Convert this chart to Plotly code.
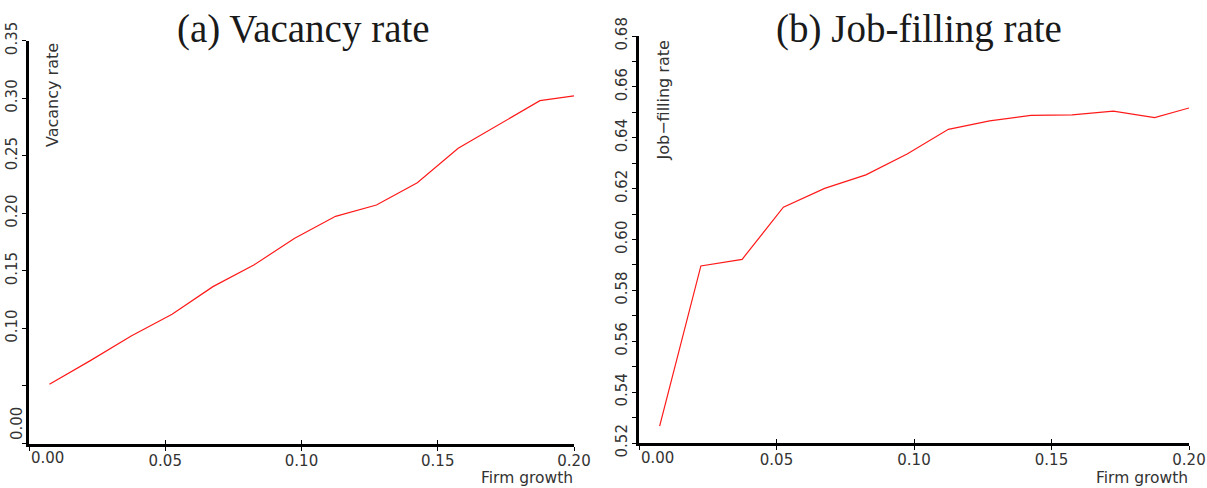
import plotly.graph_objects as go

# ---- data ----
growth = [0.0075, 0.0225, 0.0375, 0.0525, 0.0675, 0.0825, 0.0975, 0.1125,
          0.1275, 0.1425, 0.1575, 0.1725, 0.1875, 0.2000]
vacancy = [0.0514, 0.0720, 0.0934, 0.1123, 0.1363, 0.1551, 0.1783, 0.1974,
           0.2072, 0.2266, 0.2565, 0.2774, 0.2979, 0.3020]
jobfill = [0.5266, 0.5896, 0.5922, 0.6127, 0.6201, 0.6254, 0.6336, 0.6433,
           0.6466, 0.6488, 0.6490, 0.6505, 0.6479, 0.6517]

x_ticks = [0.00, 0.05, 0.10, 0.15, 0.20]
x_ticktext = ["", "0.05", "0.10", "0.15", "0.20"]
vac_ticks = [0.00, 0.05, 0.10, 0.15, 0.20, 0.25, 0.30, 0.35]
vac_ticktext = ["", "", "0.10", "0.15", "0.20", "0.25", "0.30", "0.35"]
jf_ticks = [0.52, 0.53, 0.54, 0.55, 0.56, 0.57, 0.58, 0.59, 0.60, 0.61, 0.62,
            0.63, 0.64, 0.65, 0.66, 0.67, 0.68]
jf_ticktext = ["0.52", "", "0.54", "", "0.56", "", "0.58", "", "0.60", "",
               "0.62", "", "0.64", "", "0.66", "", "0.68"]

W, H = 1207, 488
AX = "black"
TXT = "#333333"
TICKFONT = dict(family="DejaVu Sans", size=15, color=TXT)
LBLFONT = dict(family="DejaVu Sans", size=16, color=TXT)
XLBLFONT = dict(family="DejaVu Sans", size=15.5, color=TXT)
TITLEFONT = dict(family="Liberation Serif", size=39, color="#1a1a1a")

def px(v):
    return v / W

def py(v):
    return 1 - v / H

fig = go.Figure()
fig.add_trace(go.Scatter(x=growth, y=vacancy, mode="lines",
                         line=dict(color="#ff1a1a", width=1.2),
                         xaxis="x", yaxis="y", showlegend=False, hoverinfo="skip"))
fig.add_trace(go.Scatter(x=growth, y=jobfill, mode="lines",
                         line=dict(color="#ff1a1a", width=1.2),
                         xaxis="x2", yaxis="y2", showlegend=False, hoverinfo="skip"))
# invisible helper traces so the inside-tick overlay axes are drawn
fig.add_trace(go.Scatter(x=growth[:1], y=vacancy[:1], mode="markers", opacity=0,
                         xaxis="x3", yaxis="y", showlegend=False, hoverinfo="skip"))
fig.add_trace(go.Scatter(x=growth[:1], y=jobfill[:1], mode="markers", opacity=0,
                         xaxis="x4", yaxis="y2", showlegend=False, hoverinfo="skip"))

xd1 = [px(29), px(574)]
xd2 = [px(639), px(1189)]
yd1 = [py(443.5), py(40.7)]
yd2 = [py(443), py(36)]

common_x = dict(showgrid=False, zeroline=False, showline=True, linecolor=AX,
                linewidth=3, ticks="outside", ticklen=4, tickwidth=1,
                tickcolor=AX, tickfont=TICKFONT, range=[0, 0.2],
                tickmode="array", tickvals=x_ticks, ticktext=x_ticktext,
                automargin=False, ticklabelstandoff=-3)
inside_x = dict(showgrid=False, zeroline=False, showline=False, ticks="inside",
                ticklen=4, tickwidth=1, tickcolor=AX, showticklabels=False,
                range=[0, 0.2], tickmode="array", tickvals=x_ticks,
                automargin=False)
common_y = dict(showgrid=False, zeroline=False, showline=True, linecolor=AX,
                linewidth=3, ticks="outside", ticklen=4, tickwidth=1,
                tickcolor=AX, tickfont=TICKFONT, tickangle=-90,
                tickmode="array", automargin=False, ticklabelstandoff=-1)

fig.update_layout(
    template="none",
    width=W, height=H,
    margin=dict(l=0, r=0, t=0, b=0, pad=0),
    paper_bgcolor="white", plot_bgcolor="white",
    xaxis=dict(domain=xd1, anchor="y", **common_x),
    xaxis2=dict(domain=xd2, anchor="y2", **common_x),
    xaxis3=dict(overlaying="x", anchor="y", **inside_x),
    xaxis4=dict(overlaying="x2", anchor="y2", **inside_x),
    yaxis=dict(domain=yd1, anchor="x", range=[0, 0.35], tickvals=vac_ticks,
               ticktext=vac_ticktext, **common_y),
    yaxis2=dict(domain=yd2, anchor="x2", range=[0.52, 0.68], tickvals=jf_ticks,
                ticktext=jf_ticktext, **common_y),
)

ann = []
ann.append(dict(text="(a) Vacancy rate", x=px(303.5), y=py(29), xref="paper", yref="paper",
                showarrow=False, font=TITLEFONT, xanchor="center", yanchor="middle"))
ann.append(dict(text="(b) Job-filling rate", x=px(918.5), y=py(29), xref="paper", yref="paper",
                showarrow=False, font=TITLEFONT, xanchor="center", yanchor="middle"))
ann.append(dict(text="Vacancy rate", x=px(52), y=py(95), xref="paper", yref="paper",
                showarrow=False, font=LBLFONT, textangle=-90,
                xanchor="center", yanchor="middle"))
ann.append(dict(text="Job\u2212filling rate", x=px(663.5), y=py(101), xref="paper", yref="paper",
                showarrow=False, font=LBLFONT, textangle=-90,
                xanchor="center", yanchor="middle"))
ann.append(dict(text="Firm growth", x=px(574), y=0, xref="paper", yref="paper",
                showarrow=False, font=XLBLFONT, xanchor="right", yanchor="bottom",
                borderpad=0))
ann.append(dict(text="Firm growth", x=px(1189), y=0, xref="paper", yref="paper",
                showarrow=False, font=XLBLFONT, xanchor="right", yanchor="bottom",
                borderpad=0))
ann.append(dict(text="0.00", x=0, y=py(458), xref="x", yref="paper", xshift=18,
                showarrow=False, font=TICKFONT, xanchor="center", yanchor="middle"))
ann.append(dict(text="0.00", x=0, y=py(458), xref="x2", yref="paper", xshift=18,
                showarrow=False, font=TICKFONT, xanchor="center", yanchor="middle"))
ann.append(dict(text="0.00", x=px(17), y=py(424), xref="paper", yref="paper",
                showarrow=False, font=TICKFONT, textangle=-90,
                xanchor="center", yanchor="middle"))
fig.update_layout(annotations=ann)

fig.write_html("out.html", config={"displayModeBar": False})
with open("out.html", "r", encoding="utf-8") as f:
    html = f.read()
html = html.replace("<head>", "<head><style>html,body{margin:0;padding:0;overflow:hidden;}</style>", 1)
with open("out.html", "w", encoding="utf-8") as f:
    f.write(html)
